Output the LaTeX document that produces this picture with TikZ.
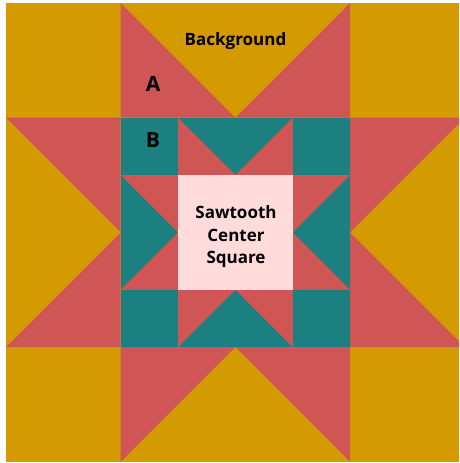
\documentclass[tikz,border=0pt]{standalone}
\usepackage{fontspec}
\setmainfont{Open Sans}
\definecolor{qgold}{HTML}{D39B00}
\definecolor{qred}{HTML}{D05656}
\definecolor{qteal}{HTML}{1C8080}
\definecolor{qpink}{HTML}{FFDCDB}
\tikzset{
  lbl/.style={font=\bfseries\fontsize{17}{22.5}\selectfont, text=black, inner sep=0pt},
  biglbl/.style={font=\bfseries\fontsize{21}{24}\selectfont, text=black, inner sep=0pt}
}
\begin{document}
\begin{tikzpicture}[x=1pt,y=-1pt]
\useasboundingbox (0,0) rectangle (459,463);
\fill[white] (0,0) rectangle (459,463);
\begin{scope}
\clip (0,0) rectangle (459,463);
\begin{scope}[shift={(6,3)}, x=57.35pt, y=-57.35pt]
  % background
  \fill[qgold] (0,0) rectangle (8,8);
  % outer star points
  \fill[qred] (2,0) -- (4,2) -- (2,2) -- cycle;
  \fill[qred] (6,0) -- (6,2) -- (4,2) -- cycle;
  \fill[qred] (0,2) -- (2,2) -- (2,4) -- cycle;
  \fill[qred] (0,6) -- (2,4) -- (2,6) -- cycle;
  \fill[qred] (8,2) -- (6,2) -- (6,4) -- cycle;
  \fill[qred] (8,6) -- (6,4) -- (6,6) -- cycle;
  \fill[qred] (2,8) -- (4,6) -- (2,6) -- cycle;
  \fill[qred] (6,8) -- (6,6) -- (4,6) -- cycle;
  % inner star
  \fill[qteal] (2,2) rectangle (6,6);
  \fill[qred] (3,2) -- (4,3) -- (3,3) -- cycle;
  \fill[qred] (5,2) -- (5,3) -- (4,3) -- cycle;
  \fill[qred] (2,3) -- (3,3) -- (3,4) -- cycle;
  \fill[qred] (2,5) -- (3,4) -- (3,5) -- cycle;
  \fill[qred] (6,3) -- (5,3) -- (5,4) -- cycle;
  \fill[qred] (6,5) -- (5,4) -- (5,5) -- cycle;
  \fill[qred] (3,6) -- (4,5) -- (3,5) -- cycle;
  \fill[qred] (5,6) -- (5,5) -- (4,5) -- cycle;
  % center square
  \fill[qpink] (3,3) rectangle (5,5);
\end{scope}
\end{scope}
\node[lbl] (bg) at (235.5,41.5) {Background};
\node[biglbl] (a) at (153,83.5) {A};
\node[biglbl] (b) at (153,140) {B};
\node[lbl, align=center] (center) at (236,237) {Sawtooth\\Center\\Square};
\end{tikzpicture}
\end{document}
